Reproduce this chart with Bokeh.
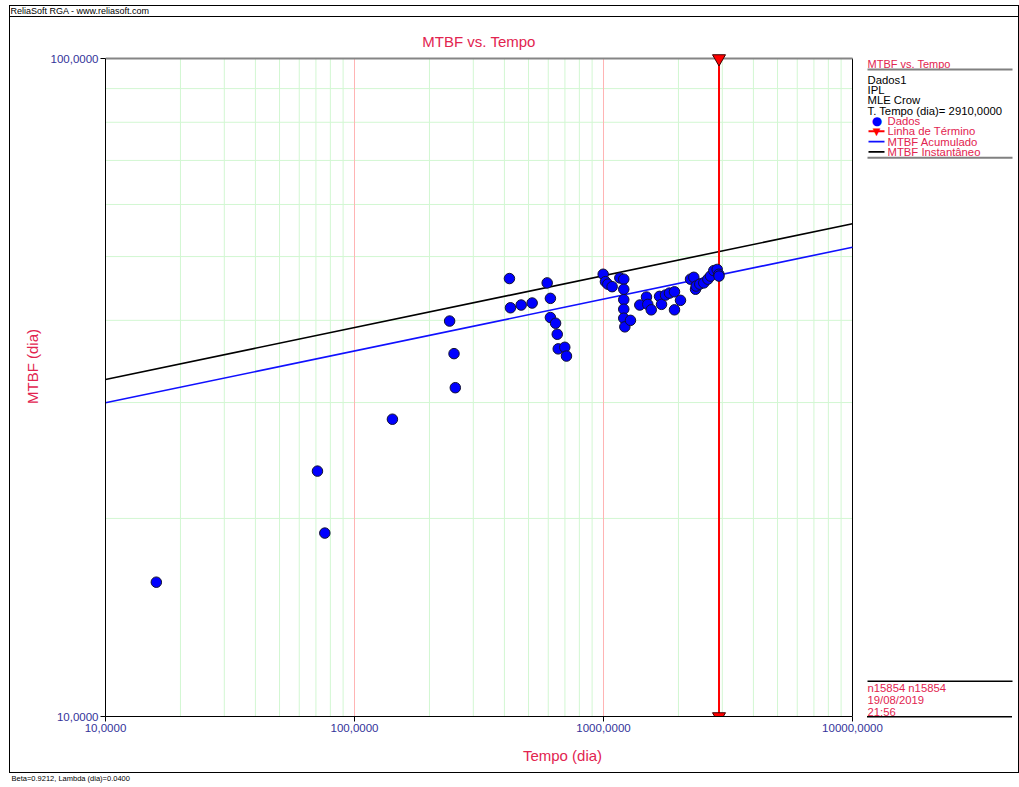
import math
from bokeh.plotting import figure
from bokeh.models import Label, BoxAnnotation, FixedTicker, CustomJSTickFormatter, ColumnDataSource, Title
from bokeh.embed import file_html
from bokeh.resources import INLINE

# ---------------- data ----------------
fail_time = [16, 71, 76, 142, 241, 251, 254, 419, 423, 467,
             517, 594, 612, 612, 642, 652, 658, 699, 710, 997,
             1018, 1041, 1083, 1163, 1206, 1206, 1206, 1206, 1206, 1218,
             1283, 1399, 1488, 1506, 1555, 1679, 1710, 1774, 1841, 1928,
             1928, 2038, 2236, 2305, 2342, 2357, 2436, 2528, 2624, 2690,
             2773, 2862, 2905, 2910]
mtbf_obs = [16.0, 23.6, 19.0, 28.3, 39.9, 35.6, 31.6, 46.3, 41.8, 42.2,
            42.5, 45.6, 43.2, 40.4, 39.6, 38.1, 36.2, 36.4, 35.3, 47.0,
            45.8, 45.4, 45.0, 46.4, 46.2, 44.6, 43.0, 41.6, 40.3, 39.1,
            40.0, 42.2, 43.4, 42.3, 41.5, 43.5, 42.3, 43.7, 44.0, 44.2,
            41.5, 42.9, 46.2, 46.5, 44.6, 45.1, 45.4, 45.6, 46.2, 46.7,
            47.6, 47.8, 47.0, 46.7]
line_time = [10, 10000]
mtbf_cum_line = [29.97, 51.66]
mtbf_inst_line = [32.53, 56.08]
term_time = 2910

x_major = [10, 100, 1000, 10000]
x_minor = [m * d for d in (10, 100, 1000) for m in range(2, 10)]
y_major = [10, 100]
y_minor = [20, 30, 40, 50, 60, 70, 80, 90]

header_text = "ReliaSoft RGA - www.reliasoft.com"
footer_text = "Beta=0.9212, Lambda (dia)=0.0400"
title_text = "MTBF vs. Tempo"
x_label = "Tempo (dia)"
y_label = "MTBF (dia)"
legend_title = "MTBF vs. Tempo"
legend_info = ["Dados1", "IPL", "MLE Crow", "T. Tempo (dia)= 2910,0000"]
legend_items = ["Dados", "Linha de Término", "MTBF Acumulado", "MTBF Instantâneo"]
stamp_lines = ["n15854 n15854", "19/08/2019", "21:56"]

# ---------------- layout / styling ----------------
FONT = "Liberation Sans"
CRIMSON = "#e2244f"
NAVY = "#33339a"
W, H = 1019, 787
PL, PR, PT, PB = 105, 852, 58, 716      # chart area (canvas px)
FT = 16                                 # frame top (below header strip)
XMIN, XMAX = x_major[0], x_major[-1]
YMIN, YMAX = y_major[0], y_major[-1]
ppd_x = (PR - PL) / (math.log10(XMAX) - math.log10(XMIN))
ppd_y = (PB - PT) / (math.log10(YMAX) - math.log10(YMIN))
x_end = 10 ** (math.log10(XMAX) + (W - PR) / ppd_x)
y_end = 10 ** (math.log10(YMAX) + (PT - FT) / ppd_y)

p = figure(width=W, height=H, x_axis_type="log", y_axis_type="log",
           x_range=(XMIN, x_end), y_range=(YMIN, y_end),
           output_backend="svg", toolbar_location=None,
           min_border_left=PL, min_border_right=0,
           min_border_top=FT, min_border_bottom=H - PB)
p.background_fill_alpha = 0
p.border_fill_alpha = 0
p.outline_line_color = None

# frame lines drawn behind the transparent canvas
css_lines = [  # (left, top, width, height)
    (9, 5, 1010, 1), (9, 16, 1010, 1), (9, 5, 1, 767), (9, 772, 1010, 1), (1018, 5, 1, 767),
    (867, 716, 145, 1.5),
]
p.styles = {
    "background-color": "white",
    "background-image": ", ".join(["linear-gradient(#000, #000)"] * len(css_lines)),
    "background-size": ", ".join(f"{w}px {h}px" for _, _, w, h in css_lines),
    "background-position": ", ".join(f"{l}px {t}px" for l, t, _, _ in css_lines),
    "background-repeat": "no-repeat",
}

# header (title in the top strip) and footer
p.title.text = header_text
p.title.text_font = FONT
p.title.text_font_size = "9px"
p.title.text_font_style = "normal"
p.title.text_color = "black"
p.title.align = "left"
p.title.offset = 10 - PL
p.title.standoff = 2
p.add_layout(Title(text=footer_text, text_font=FONT, text_font_size="7.5px", text_font_style="normal",
                   text_color="black", align="left", offset=11 - PL, standoff=10), "below")

xt = FixedTicker(ticks=x_major, minor_ticks=x_minor)
yt = FixedTicker(ticks=y_major, minor_ticks=y_minor)
fmt = CustomJSTickFormatter(code="return tick.toFixed(4).replace('.', ',');")
for ax, tk, bnd in ((p.xaxis[0], xt, (XMIN, XMAX)), (p.yaxis[0], yt, (YMIN, YMAX))):
    ax.ticker = tk
    ax.formatter = fmt
    ax.bounds = bnd
    ax.major_tick_out = 5
    ax.major_tick_in = 0
    ax.minor_tick_out = 0
    ax.minor_tick_in = 0
    ax.axis_line_color = "black"
    ax.major_tick_line_color = "black"
    ax.major_label_text_font = FONT
    ax.major_label_text_font_size = "11.5px"
    ax.major_label_text_color = NAVY
    ax.axis_label_text_font = FONT
    ax.axis_label_text_font_size = "15px"
    ax.axis_label_text_font_style = "normal"
    ax.axis_label_text_color = CRIMSON
p.xaxis.axis_label = x_label
p.yaxis.axis_label = y_label
p.xaxis.major_label_standoff = 2
p.yaxis.major_label_standoff = 2
p.xaxis.axis_label_standoff = 12
p.yaxis.axis_label_standoff = 7
p.xgrid.visible = False
p.ygrid.visible = False

# grid lines limited to the chart area
n = len(x_minor)
p.segment(x0=x_minor, x1=x_minor, y0=[YMIN] * n, y1=[YMAX] * n, line_color="#d2f7d2", line_width=1)
m = len(y_minor)
p.segment(x0=[XMIN] * m, x1=[XMAX] * m, y0=y_minor, y1=y_minor, line_color="#d2f7d2", line_width=1)
k = len(x_major) - 2
p.segment(x0=x_major[1:-1], x1=x_major[1:-1], y0=[YMIN] * k, y1=[YMAX] * k, line_color="#ffb4b4", line_width=1)
# right and top edges of chart area
p.segment(x0=[XMAX], x1=[XMAX], y0=[YMIN], y1=[YMAX], line_color="black", line_width=1)
p.segment(x0=[XMIN], x1=[XMAX], y0=[YMAX], y1=[YMAX], line_color="#858585", line_width=2)

# fitted lines
p.line(line_time, mtbf_inst_line, line_color="black", line_width=1.6)
p.line(line_time, mtbf_cum_line, line_color="#1010ff", line_width=1.6)

# termination line with end markers
p.line([term_time, term_time], [YMIN, YMAX], line_color="#ff0000", line_width=2)
p.scatter([term_time, term_time], [YMAX, YMIN], marker="inverted_triangle", size=13,
          fill_color="#ff0000", line_color="#400000", line_width=1)

# data points
src = ColumnDataSource(dict(t=fail_time, m=mtbf_obs))
p.scatter("t", "m", source=src, size=10.5, fill_color="#0000ff", line_color="#111133", line_width=1)

# ---------------- helpers for decoration inside the frame ----------------
FB = PB  # frame bottom

def text(cx, cy, s, size, color, align="left", font=FONT):
    p.add_layout(Label(x=cx - PL, y=FB - cy, x_units="screen", y_units="screen", text=s,
                       text_font=font, text_font_size=f"{size}px", text_color=color,
                       text_align=align, text_baseline="middle"))

def hbar(x0, x1, yc, lw, color):
    p.add_layout(BoxAnnotation(left=x0 - PL, right=x1 - PL, bottom=FB - (yc + lw / 2), top=FB - (yc - lw / 2),
                               left_units="screen", right_units="screen", top_units="screen",
                               bottom_units="screen", fill_color=color, fill_alpha=1.0,
                               line_color=None, level="overlay"))

# title
text((PL + PR) / 2, 41, title_text, 15, CRIMSON, align="center")

# legend panel
LX = 867
text(LX, 63.3, legend_title, 11, CRIMSON)
hbar(LX, 1012, 69, 2, "#808080")
ys = [79.3, 89.6, 99.9, 110.2, 120.5, 130.8, 141.1, 151.4]
for i, s in enumerate(legend_info):
    text(LX, ys[i], s, 11.3, "black")
for i, s in enumerate(legend_items):
    text(887, ys[4 + i], s, 11.3, CRIMSON)
text(876.5, ys[4], "●", 12, "#0000ff", align="center", font="DejaVu Sans")
hbar(868, 884, ys[5], 2, "#ff0000")
text(876, ys[5], "▼", 10, "#ff0000", align="center", font="DejaVu Sans")
hbar(868, 884, ys[6], 1.6, "#1010ff")
hbar(868, 884, ys[7], 1.6, "black")
hbar(LX, 1012, 157.3, 2, "#808080")

# stamp box
hbar(LX, 1012, 680.7, 1.5, "black")
for i, s in enumerate(stamp_lines):
    text(LX, [687.5, 699.5, 711.5][i], s, 11.3, CRIMSON)

open("out.html", "w").write(file_html(p, INLINE))
